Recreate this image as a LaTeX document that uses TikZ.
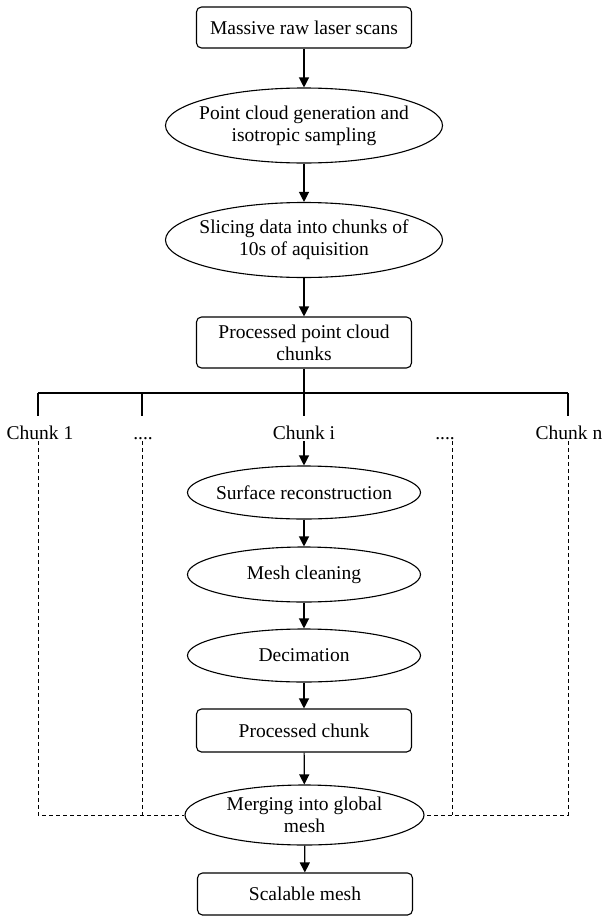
\documentclass[tikz,border=0pt]{standalone}
\usepackage{fontspec}
\setmainfont{Liberation Serif}
\usetikzlibrary{shapes.geometric,arrows.meta}
\begin{document}
\begin{tikzpicture}[x=1pt,y=-1pt,
  every node/.style={font=\fontsize{19.5}{22}\selectfont},
  box/.style={draw, rounded corners=5pt, minimum width=215pt, align=center, inner sep=0pt, line width=1.1pt},
  ell/.style={draw, ellipse, align=center, inner xsep=-90pt, inner ysep=-35pt, line width=1.1pt},
  arr/.style={-{Triangle[width=10pt,length=10pt]}, line width=1.2pt},
  tree/.style={line width=1.2pt},
  lab/.style={anchor=base, inner sep=0pt, text height=13pt, text depth=4pt},
  dsh/.style={dash pattern=on 4pt off 3pt, line width=0.9pt}
]
\useasboundingbox (0,0) rectangle (603,916);

\node[box, minimum height=41pt] (b1) at (304,27.5) {Massive raw laser scans};
\node[ell, minimum width=277pt, minimum height=75pt] (e1) at (304,125.5) {Point cloud generation and\\isotropic sampling};
\node[ell, minimum width=277pt, minimum height=75pt] (e2) at (304,240) {Slicing data into chunks of\\10s of aquisition};
\node[box, minimum height=51pt] (b2) at (304,342.5) {Processed point cloud\\chunks};

\coordinate (j) at (304,393);
\coordinate (t1) at (38,393);
\coordinate (t2) at (142,393);
\coordinate (t5) at (568,393);
\coordinate (x4) at (452,393);

\node[lab] (c1) at (40,439) {Chunk 1};
\node[lab] (d1) at (143,439) {....};
\node[lab] (ci) at (304,439) {Chunk i};
\node[lab] (d2) at (445,439) {....};
\node[lab] (cn) at (569,439) {Chunk n};

\node[ell, minimum width=233pt, minimum height=53pt] (surf) at (304,492.5) {Surface reconstruction};
\node[ell, minimum width=233pt, minimum height=55pt] (clean) at (304,574.5) {Mesh cleaning};
\node[ell, minimum width=233pt, minimum height=53pt] (dec) at (304,655.5) {Decimation};
\node[box, minimum height=43pt] (pc) at (304,730.5) {Processed chunk};
\node[ell, minimum width=239pt, minimum height=60pt] (merge) at (304.5,815) {Merging into global\\mesh};
\node[box, minimum height=42pt] (sm) at (305,894) {Scalable mesh};

\draw[arr] (b1) -- (e1);
\draw[arr] (e1) -- (e2);
\draw[arr] (e2) -- (b2);
\draw[tree] (b2.south) -- (j);
\draw[tree] (t1) -- (t5);
\draw[tree, shorten >=10pt] (t1) -- (t1 |- c1.north);
\draw[tree, shorten >=10pt] (t2) -- (t2 |- d1.north);
\draw[tree, shorten >=10pt] (j) -- (ci.north);
\draw[tree, shorten >=10pt] (t5) -- (t5 |- cn.north);

\draw[arr] ([yshift=2pt]ci.south) -- (surf);
\draw[arr] (surf) -- (clean);
\draw[arr] (clean) -- (dec);
\draw[arr] (dec) -- (pc);
\draw[arr] (pc) -- (merge);
\draw[arr] (merge) -- (sm);

\draw[dsh] ([yshift=2pt]t1 |- c1.south) |- (merge.west);
\draw[dsh] ([yshift=2pt]t2 |- d1.south) -- (t2 |- merge.west);
\draw[dsh] ([yshift=2pt]x4 |- d2.south) -- (x4 |- merge.east);
\draw[dsh] ([yshift=2pt]t5 |- cn.south) |- (merge.east);
\end{tikzpicture}
\end{document}
